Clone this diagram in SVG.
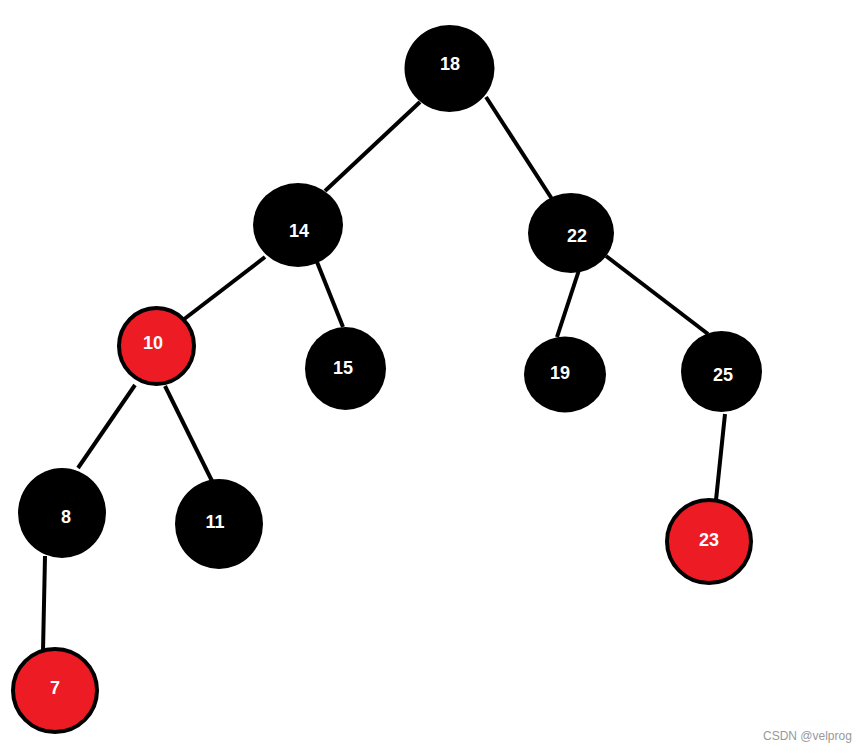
<svg xmlns="http://www.w3.org/2000/svg" width="867" height="753" viewBox="0 0 867 753">
<style>
.blk{fill:#000}
.red{fill:#ed1c24;stroke:#000;stroke-width:4}
.lbl{fill:#fff;font-family:"Liberation Sans",Arial,sans-serif;font-weight:bold;font-size:18px;text-anchor:middle;dominant-baseline:central}
.edge{stroke:#000;stroke-width:4;fill:none}
.wm{fill:#999;font-family:"Liberation Sans",Arial,sans-serif;font-size:12px}
</style>
<rect width="867" height="753" fill="#fff"/>
<g id="connectors">
<line class="edge" x1="420" y1="102" x2="325" y2="191"/>
<line class="edge" x1="486" y1="97" x2="552" y2="199"/>
<line class="edge" x1="265" y1="257" x2="183" y2="320"/>
<line class="edge" x1="317" y1="262" x2="343" y2="327"/>
<line class="edge" x1="579" y1="270" x2="557" y2="337"/>
<line class="edge" x1="606" y1="256" x2="708" y2="334"/>
<line class="edge" x1="135" y1="385" x2="78" y2="468"/>
<line class="edge" x1="165" y1="386" x2="212" y2="481"/>
<line class="edge" x1="725" y1="414" x2="716" y2="500"/>
<line class="edge" x1="45" y1="556" x2="43" y2="651"/>
</g>
<g id="n18"><ellipse class="blk" cx="449.5" cy="68.5" rx="45" ry="43.5"/><text class="lbl" x="450" y="64">18</text></g>
<g id="n14"><ellipse class="blk" cx="298" cy="225" rx="45" ry="42"/><text class="lbl" x="299" y="231">14</text></g>
<g id="n22"><ellipse class="blk" cx="571" cy="233" rx="43" ry="40"/><text class="lbl" x="577" y="236">22</text></g>
<g id="n10"><ellipse class="red" cx="156.5" cy="346" rx="37.5" ry="38"/><text class="lbl" x="153" y="343">10</text></g>
<g id="n15"><ellipse class="blk" cx="345.5" cy="368.5" rx="40.5" ry="41.5"/><text class="lbl" x="343" y="368">15</text></g>
<g id="n19"><ellipse class="blk" cx="565" cy="374.5" rx="41" ry="38"/><text class="lbl" x="560" y="373">19</text></g>
<g id="n25"><ellipse class="blk" cx="721.5" cy="371.5" rx="40.5" ry="40.5"/><text class="lbl" x="723" y="375">25</text></g>
<g id="n8"><ellipse class="blk" cx="62" cy="513" rx="44" ry="45"/><text class="lbl" x="66" y="517">8</text></g>
<g id="n11"><ellipse class="blk" cx="219" cy="524" rx="44" ry="45"/><text class="lbl" x="215" y="522">11</text></g>
<g id="n23"><ellipse class="red" cx="709" cy="541.5" rx="42" ry="41.5"/><text class="lbl" x="709" y="540">23</text></g>
<g id="n7"><ellipse class="red" cx="55" cy="690.5" rx="42" ry="41.5"/><text class="lbl" x="55" y="688">7</text></g>
<text class="wm" x="763" y="740">CSDN @velprog</text>
</svg>
